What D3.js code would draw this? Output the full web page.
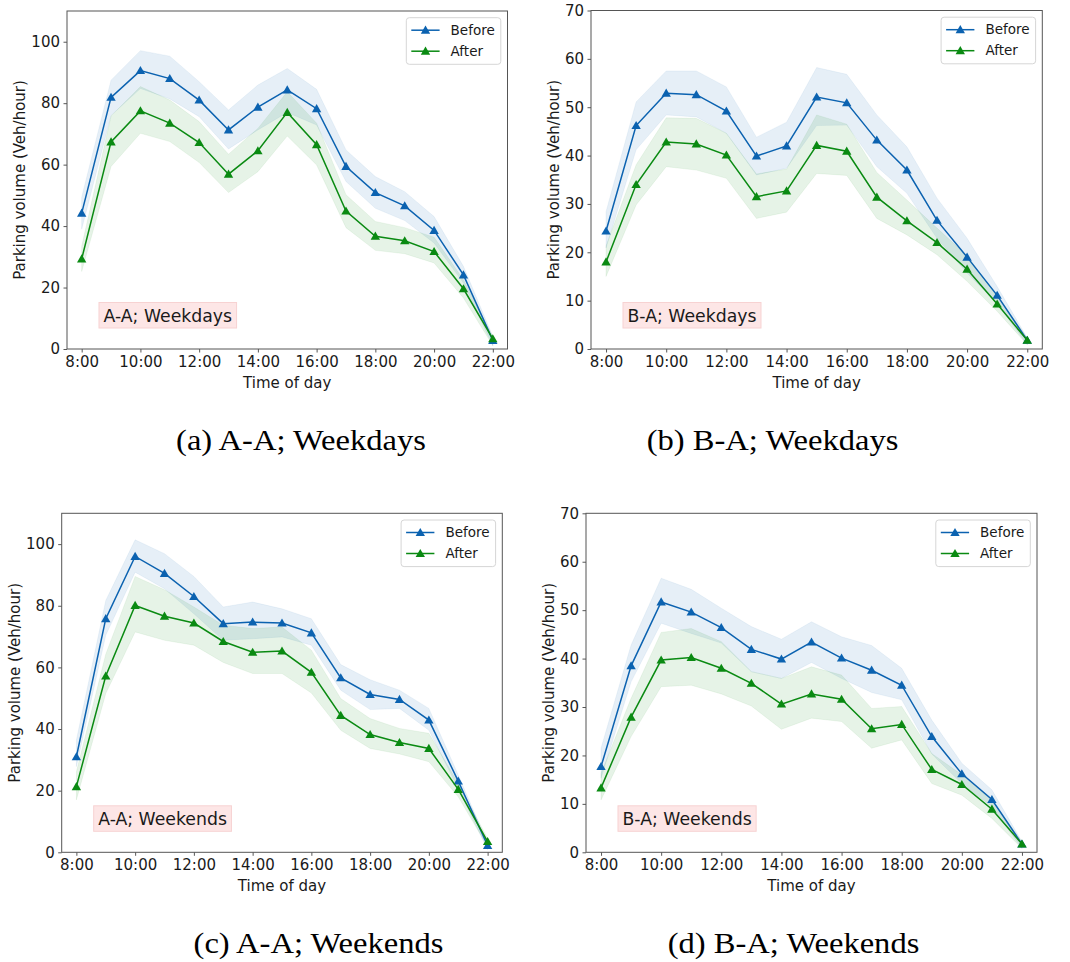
<!DOCTYPE html>
<html>
<head>
<meta charset="utf-8">
<script src="https://cdn.jsdelivr.net/npm/d3@7/dist/d3.min.js"></script>
<style>
  html, body { margin: 0; padding: 0; background: #fff; }
  svg { display: block; }
</style>
</head>
<body>
<svg id="fig" width="1070" height="962"></svg>
<script>
// Hours of the day on the x axis
const hours = [8, 9, 10, 11, 12, 13, 14, 15, 16, 17, 18, 19, 20, 21, 22];
const tickHours = [8, 10, 12, 14, 16, 18, 20, 22];
const tickLabels = ["8:00", "10:00", "12:00", "14:00", "16:00", "18:00", "20:00", "22:00"];
const seriesNames = ["Before", "After"];

// (a) A-A; Weekdays
const aaWeekdaysBefore   = [44.2, 81.9, 90.6, 88.0, 81.0, 71.3, 78.7, 84.3, 78.2, 59.4, 50.9, 46.6, 38.6, 24.1, 2.8];
const aaWeekdaysBeforeLo = [39.0, 76.0, 84.8, 81.4, 75.6, 65.1, 71.3, 77.0, 72.9, 54.5, 45.8, 41.8, 34.5, 21.5, 1.0];
const aaWeekdaysBeforeHi = [49.4, 87.5, 97.1, 95.3, 87.0, 77.8, 85.9, 91.3, 84.5, 64.8, 56.1, 51.2, 43.1, 26.9, 4.1];
const aaWeekdaysAfter    = [29.3, 67.4, 77.5, 73.5, 67.2, 56.9, 64.5, 77.0, 66.5, 44.9, 36.7, 35.2, 31.7, 19.6, 3.3];
const aaWeekdaysAfterLo  = [25.2, 59.4, 70.2, 67.5, 60.7, 50.9, 57.7, 69.3, 59.9, 39.5, 32.1, 31.0, 28.0, 16.6, 1.1];
const aaWeekdaysAfterHi  = [33.4, 75.8, 85.4, 81.0, 74.0, 63.4, 71.8, 83.7, 73.5, 50.2, 41.5, 39.5, 36.4, 22.5, 4.1];

// (b) B-A; Weekdays
const baWeekdaysBefore   = [24.4, 46.2, 52.9, 52.6, 49.2, 39.9, 42.0, 52.1, 50.9, 43.2, 37.0, 26.6, 19.0, 11.1, 1.8];
const baWeekdaysBeforeLo = [20.9, 41.2, 48.4, 48.0, 44.6, 36.0, 37.4, 46.2, 46.3, 37.7, 32.2, 22.9, 15.7, 9.4, 0.9];
const baWeekdaysBeforeHi = [28.4, 51.1, 57.5, 57.5, 54.2, 43.8, 46.9, 58.2, 56.8, 48.4, 41.8, 31.2, 22.9, 12.9, 2.3];
const baWeekdaysAfter    = [18.0, 34.0, 42.8, 42.4, 40.1, 31.5, 32.7, 42.1, 40.9, 31.4, 26.5, 22.0, 16.5, 9.3, 1.8];
const baWeekdaysAfterLo  = [15.0, 29.8, 37.7, 37.0, 35.3, 27.0, 28.3, 36.3, 35.9, 27.0, 23.6, 19.5, 14.0, 7.8, 0.9];
const baWeekdaysAfterHi  = [21.3, 38.1, 47.8, 47.7, 44.6, 36.2, 37.2, 48.4, 46.5, 36.5, 30.8, 25.0, 19.3, 10.9, 2.3];

// (c) A-A; Weekends
const aaWeekendsBefore   = [31.0, 75.8, 96.0, 90.5, 83.0, 74.2, 74.7, 74.4, 71.2, 56.6, 51.2, 49.6, 42.9, 23.1, 2.2];
const aaWeekendsBeforeLo = [27.8, 70.4, 90.9, 85.5, 77.4, 68.8, 69.3, 69.9, 67.2, 52.6, 46.3, 46.7, 39.6, 20.7, 0.8];
const aaWeekendsBeforeHi = [36.4, 81.7, 101.4, 96.9, 89.5, 79.6, 81.2, 79.0, 75.8, 60.9, 56.0, 52.6, 46.7, 25.1, 2.9];
const aaWeekendsAfter    = [21.3, 57.2, 80.1, 76.6, 74.4, 68.4, 64.9, 65.3, 58.4, 44.4, 38.2, 35.6, 33.7, 20.4, 3.5];
const aaWeekendsAfterLo  = [17.0, 51.5, 71.5, 68.8, 67.2, 61.6, 58.0, 58.0, 51.7, 39.6, 33.7, 31.9, 29.4, 18.0, 1.8];
const aaWeekendsAfterHi  = [26.1, 64.3, 89.5, 85.2, 79.6, 73.7, 72.6, 73.1, 65.6, 49.9, 43.4, 40.2, 38.6, 22.4, 4.5];

// (d) B-A; Weekends
const baWeekendsBefore   = [17.7, 38.5, 51.7, 49.6, 46.4, 41.9, 39.9, 43.4, 40.1, 37.6, 34.5, 23.9, 16.2, 10.9, 1.7];
const baWeekendsBeforeLo = [15.3, 35.2, 47.3, 45.2, 43.2, 37.3, 35.9, 39.2, 35.9, 33.0, 31.5, 20.3, 14.2, 9.4, 0.8];
const baWeekendsBeforeHi = [21.5, 42.8, 56.6, 54.3, 50.4, 46.6, 44.0, 47.6, 44.5, 42.7, 38.0, 27.3, 18.4, 12.9, 2.2];
const baWeekendsAfter    = [13.3, 27.9, 39.7, 40.2, 38.0, 34.9, 30.6, 32.7, 31.6, 25.5, 26.4, 17.1, 14.0, 8.9, 1.7];
const baWeekendsAfterLo  = [10.8, 23.9, 34.2, 34.5, 32.7, 30.2, 25.4, 27.7, 27.0, 21.5, 23.2, 14.2, 11.8, 7.0, 0.8];
const baWeekendsAfterHi  = [16.3, 31.8, 45.4, 46.2, 43.5, 37.3, 35.9, 38.3, 36.6, 29.7, 30.1, 20.4, 16.0, 10.8, 2.2];

// Y axis ticks per panel type
const yTicksAA = [0, 20, 40, 60, 80, 100];
const yTicksBA = [0, 10, 20, 30, 40, 50, 60, 70];

// Panel captions and in-plot labels
const panelTags = ["A-A; Weekdays", "B-A; Weekdays", "A-A; Weekends", "B-A; Weekends"];
const panelCaptions = ["(a) A-A; Weekdays", "(b) B-A; Weekdays", "(c) A-A; Weekends", "(d) B-A; Weekends"];

const COLORS = { Before: "#0b62b0", After: "#0a8a12" };
const SANS = "'DejaVu Sans', sans-serif";
const SERIF = "'Liberation Serif', 'Times New Roman', serif";

const panels = [
  { left: 67, top: 11, right: 507.5, bottom: 349, yMax: 110, yTicks: yTicksAA,
    tag: panelTags[0], caption: panelCaptions[0], capX: 301, capY: 450,
    before: [aaWeekdaysBefore, aaWeekdaysBeforeLo, aaWeekdaysBeforeHi],
    after: [aaWeekdaysAfter, aaWeekdaysAfterLo, aaWeekdaysAfterHi] },
  { left: 591, top: 10.5, right: 1042.3, bottom: 349, yMax: 70, yTicks: yTicksBA,
    tag: panelTags[1], caption: panelCaptions[1], capX: 772.5, capY: 450,
    before: [baWeekdaysBefore, baWeekdaysBeforeLo, baWeekdaysBeforeHi],
    after: [baWeekdaysAfter, baWeekdaysAfterLo, baWeekdaysAfterHi] },
  { left: 61.7, top: 513.3, right: 502.3, bottom: 852.3, yMax: 110, yTicks: yTicksAA,
    tag: panelTags[2], caption: panelCaptions[2], capX: 318.5, capY: 953,
    before: [aaWeekendsBefore, aaWeekendsBeforeLo, aaWeekendsBeforeHi],
    after: [aaWeekendsAfter, aaWeekendsAfterLo, aaWeekendsAfterHi] },
  { left: 586, top: 513.3, right: 1037, bottom: 852.3, yMax: 70, yTicks: yTicksBA,
    tag: panelTags[3], caption: panelCaptions[3], capX: 793.5, capY: 953,
    before: [baWeekendsBefore, baWeekendsBeforeLo, baWeekendsBeforeHi],
    after: [baWeekendsAfter, baWeekendsAfterLo, baWeekendsAfterHi] }
];

const svg = d3.select("#fig");
svg.append("rect").attr("width", 1070).attr("height", 962).attr("fill", "#fff");

const tri = d3.symbol().type(d3.symbolTriangle).size(38);

panels.forEach(p => {
  const x = d3.scaleLinear().domain([7.5, 22.5]).range([p.left, p.right]);
  const y = d3.scaleLinear().domain([0, p.yMax]).range([p.bottom, p.top]);
  const g = svg.append("g");

  // confidence bands
  const series = [
    { name: "Before", vals: p.before },
    { name: "After", vals: p.after }
  ];
  series.forEach(s => {
    const rows = hours.map((h, i) => ({ h, lo: s.vals[1][i], hi: s.vals[2][i] }));
    const area = d3.area().x(d => x(d.h)).y0(d => y(d.lo)).y1(d => y(d.hi));
    g.append("path").datum(rows)
      .attr("d", area)
      .attr("fill", COLORS[s.name]).attr("fill-opacity", 0.1)
      .attr("stroke", COLORS[s.name]).attr("stroke-opacity", 0.06).attr("stroke-width", 1);
  });

  // mean lines with triangle markers
  series.forEach(s => {
    const rows = hours.map((h, i) => ({ h, v: s.vals[0][i] }));
    const line = d3.line().x(d => x(d.h)).y(d => y(d.v));
    g.append("path").datum(rows)
      .attr("d", line).attr("fill", "none")
      .attr("stroke", COLORS[s.name]).attr("stroke-width", 1.5);
    g.selectAll(null).data(rows).enter().append("path")
      .attr("d", tri)
      .attr("transform", d => `translate(${x(d.h)},${y(d.v) + 0.8})`)
      .attr("fill", COLORS[s.name]);
  });

  // axes
  const xAxis = d3.axisBottom(x).tickValues(tickHours)
    .tickFormat((d, i) => tickLabels[i]).tickSizeOuter(0).tickSize(3.5).tickPadding(3.5);
  const yAxis = d3.axisLeft(y).tickValues(p.yTicks).tickSizeOuter(0).tickSize(3.5).tickPadding(3.5);
  const gx = g.append("g").attr("transform", `translate(0,${p.bottom})`).call(xAxis);
  const gy = g.append("g").attr("transform", `translate(${p.left},0)`).call(yAxis);
  [gx, gy].forEach(a => {
    a.select(".domain").remove();
    a.selectAll(".tick line").attr("stroke", "#444").attr("stroke-width", 0.9);
    a.selectAll(".tick text").attr("font-family", SANS).attr("font-size", 15).attr("fill", "#1a1a1a");
  });

  // frame
  g.append("rect")
    .attr("x", p.left).attr("y", p.top)
    .attr("width", p.right - p.left).attr("height", p.bottom - p.top)
    .attr("fill", "none").attr("stroke", "#555").attr("stroke-width", 1);

  // axis titles
  let maxW = 0;
  gy.selectAll(".tick text").each(function () { maxW = Math.max(maxW, this.getComputedTextLength()); });
  g.append("text")
    .attr("transform", `translate(${p.left - maxW - 18.5},${(p.top + p.bottom) / 2}) rotate(-90)`)
    .attr("text-anchor", "middle").attr("dy", "0.35em")
    .attr("font-family", SANS).attr("font-size", 15).attr("fill", "#1a1a1a")
    .text("Parking volume (Veh/hour)");
  g.append("text")
    .attr("x", (p.left + p.right) / 2).attr("y", p.bottom + 39)
    .attr("text-anchor", "middle")
    .attr("font-family", SANS).attr("font-size", 15).attr("fill", "#1a1a1a")
    .text("Time of day");

  // in-plot tag with pink box
  const tagX = p.left + 32, tagTop = p.bottom - 46.5;
  const tagText = g.append("text")
    .attr("x", tagX + 4.5).attr("y", tagTop + 19)
    .attr("font-family", SANS).attr("font-size", 17.3).attr("fill", "#1a1a1a")
    .text(p.tag);
  const tw = tagText.node().getComputedTextLength();
  g.insert("rect", function () { return tagText.node(); })
    .attr("x", tagX).attr("y", tagTop).attr("width", tw + 9).attr("height", 25.5)
    .attr("fill", "#fde6e6").attr("stroke", "#f7d2d2").attr("stroke-width", 1);

  // legend
  const lw = 94.5, lh = 46.6;
  const lx = p.right - 6.7 - lw, ly = p.top + 6.7;
  const lg = g.append("g");
  lg.append("rect").attr("x", lx).attr("y", ly).attr("width", lw).attr("height", lh)
    .attr("rx", 3).attr("fill", "#fff").attr("fill-opacity", 0.85)
    .attr("stroke", "#d6d6d6").attr("stroke-width", 1);
  seriesNames.forEach((name, i) => {
    const ry = ly + 12.5 + i * 21;
    lg.append("line").attr("x1", lx + 5).attr("x2", lx + 33.3).attr("y1", ry).attr("y2", ry)
      .attr("stroke", COLORS[name]).attr("stroke-width", 1.5);
    lg.append("path").attr("d", tri)
      .attr("transform", `translate(${lx + 19.2},${ry + 0.8})`).attr("fill", COLORS[name]);
    lg.append("text").attr("x", lx + 44.3).attr("y", ry).attr("dy", "0.35em")
      .attr("font-family", SANS).attr("font-size", 13.5).attr("fill", "#1a1a1a")
      .text(name);
  });

  // caption beneath the panel
  const cap = svg.append("text")
    .attr("x", p.capX).attr("y", p.capY)
    .attr("text-anchor", "middle")
    .attr("font-family", SERIF).attr("font-size", 30).attr("fill", "#000")
    .text(p.caption);
  const natural = cap.node().getComputedTextLength();
  cap.attr("textLength", natural * 1.085).attr("lengthAdjust", "spacingAndGlyphs");
});
</script>
</body>
</html>
